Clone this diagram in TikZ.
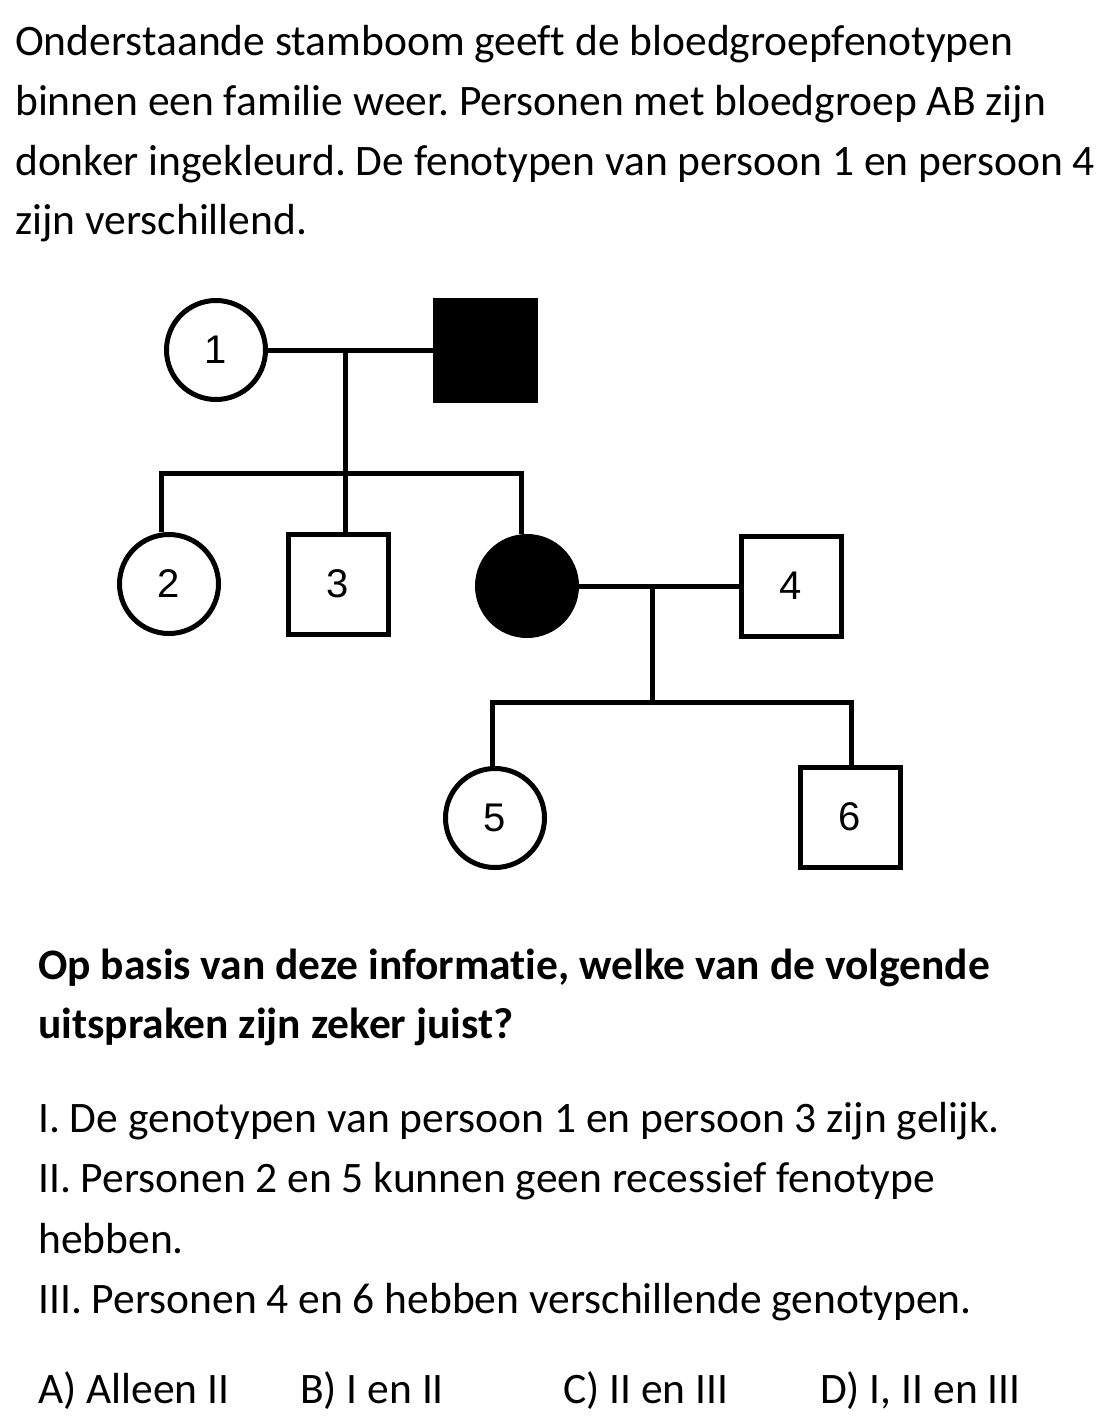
\documentclass[tikz,border=0pt]{standalone}
\usepackage{fontspec}
\setmainfont{Carlito}[Ligatures=NoCommon]
\newfontfamily\pedfont{Liberation Sans}
\frenchspacing
\begin{document}
\begin{tikzpicture}[x=1pt,y=-1pt,
  txt/.style={anchor=base west,inner sep=0pt,font=\fontsize{43.5}{60}\selectfont},
  btxt/.style={txt,font=\fontsize{43.5}{60}\selectfont\bfseries},
  person/.style={draw=black,line width=5pt,inner sep=0pt,minimum size=99pt,font=\pedfont\fontsize{40}{40}\selectfont},
  female/.style={person,circle},
  male/.style={person,rectangle,minimum size=100pt},
  affected/.style={fill=black},
  link/.style={line width=5pt,draw=black}]
\useasboundingbox (0,0) rectangle (1116,1422);
% intro text
\node[txt] (t1) at (15,55) {Onderstaande stamboom geeft de bloedgroepfenotypen};
\node[txt] (t2) at (15,115) {binnen een familie weer. Personen met bloedgroep AB zijn};
\node[txt] (t3) at (15,175) {donker ingekleurd. De fenotypen van persoon 1 en persoon 4};
\node[txt] (t4) at (15,234) {zijn verschillend.};
% pedigree
\node[female] (p1) at (216,350) {1};
\node[male,affected] (f1) at (485,350) {};
\node[female] (p2) at (169,584) {2};
\node[male] (p3) at (338,584) {3};
\node[female,affected] (a2) at (527,586) {};
\node[male] (p4) at (791,586) {4};
\node[female] (p5) at (495,818) {5};
\node[male] (p6) at (850,817) {6};
\coordinate (m1) at (345,350);
\coordinate (s1) at (345,473);
\coordinate (k2) at (161,473);
\coordinate (k4) at (521,473);
\coordinate (m2) at (652,586);
\coordinate (s2) at (652,702);
\coordinate (k5) at (492,702);
\coordinate (k6) at (851,702);
\draw[link] (p1.east) -- (f1.west);
\draw[link] (m1) -- (s1);
\draw[link] (k2 |- p2.north) -- (k2) -- (k4) -- (k4 |- a2.north);
\draw[link] (s1) -- (s1 |- p3.north);
\draw[link] (a2.east) -- (p4.west);
\draw[link] (m2) -- (s2);
\draw[link] (k5 |- p5.north) -- (k5) -- (k6) -- (k6 |- p6.north);
% question
\node[btxt] (q1) at (38,979) {Op basis van deze informatie, welke van de volgende};
\node[btxt] (q2) at (38,1038) {uitspraken zijn zeker juist?};
\node[txt] (s1t) at (38,1132) {I. De genotypen van persoon 1 en persoon 3 zijn gelijk.};
\node[txt] (s2t) at (38,1192) {II. Personen 2 en 5 kunnen geen recessief fenotype};
\node[txt] (s2b) at (38,1253) {hebben.};
\node[txt] (s3t) at (38,1313) {III. Personen 4 en 6 hebben verschillende genotypen.};
\node[txt] (aA) at (38,1403) {A) Alleen II};
\node[txt] (aB) at (300,1403) {B) I en II};
\node[txt] (aC) at (563,1403) {C) II en III};
\node[txt] (aD) at (820,1403) {D) I, II en III};
\end{tikzpicture}
\end{document}
